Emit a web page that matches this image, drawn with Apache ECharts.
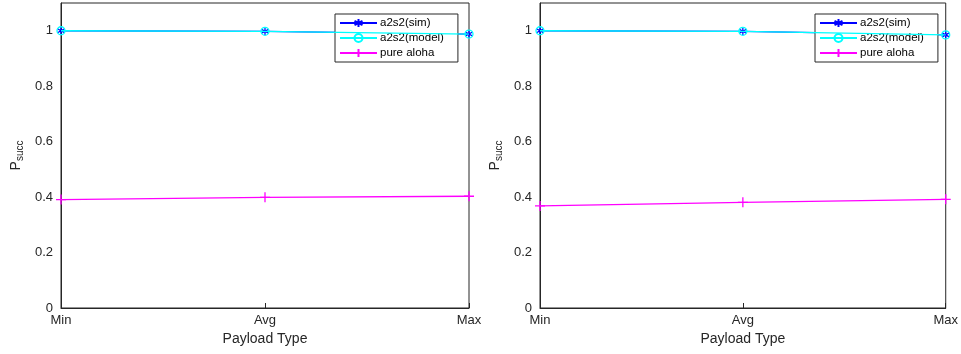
<!DOCTYPE html>
<html>
<head>
<meta charset="utf-8">
<script src="https://cdn.jsdelivr.net/npm/echarts@6/dist/echarts.min.js"></script>
<style>
  html, body { margin: 0; padding: 0; background: #fff; }
  #chart { width: 961px; height: 354px; }
</style>
</head>
<body>
<div id="chart"></div>
<script>
// Payload categories on the x axis
const categories = ['Min', 'Avg', 'Max'];

// Left panel
const simLeft = [1.0, 0.998, 0.988];
const modelLeft = [1.0, 0.998, 0.988];
const alohaLeft = [0.391, 0.399, 0.403];

// Right panel
const simRight = [1.0, 0.998, 0.985];
const modelRight = [1.0, 0.998, 0.985];
const alohaRight = [0.368, 0.381, 0.392];

const yTicks = [0, 0.2, 0.4, 0.6, 0.8, 1];

const FONT = 'Liberation Sans';
const BLUE = '#0000ff', CYAN = '#00ffff', MAGENTA = '#ff00ff';
const AXIS = '#262626';

const starPath = 'path://M0,-1L0,1M-0.87,-0.5L0.87,0.5M-0.87,0.5L0.87,-0.5';
const plusPath = 'path://M0,-1L0,1M-1,0L1,0';

const chart = echarts.init(document.getElementById('chart'), null, { renderer: 'canvas' });

function xAxisFor(gi) {
  return {
    type: 'category', gridIndex: gi, data: categories, boundaryGap: false,
    name: 'Payload Type', nameLocation: 'middle', nameGap: 24,
    nameTextStyle: { fontFamily: FONT, fontSize: 14, color: AXIS },
    axisLine: { lineStyle: { color: AXIS, width: 1 } },
    axisTick: { inside: true, length: 5, lineStyle: { color: AXIS } },
    axisLabel: { fontFamily: FONT, fontSize: 13, color: AXIS, margin: 6 },
    splitLine: { show: false }
  };
}
function yAxisFor(gi) {
  return {
    type: 'value', gridIndex: gi, min: 0, max: 1.1, interval: 0.2,
    name: '{p|P}{s|succ}', nameLocation: 'middle', nameGap: 36, nameRotate: 90,
    nameTextStyle: {
      rich: {
        p: { fontFamily: FONT, fontSize: 14, color: AXIS },
        s: { fontFamily: FONT, fontSize: 10, color: AXIS, verticalAlign: 'bottom', padding: [7, 0, 0, 0] }
      }
    },
    axisLine: { show: true, lineStyle: { color: AXIS, width: 1 } },
    axisTick: { inside: true, length: 5, lineStyle: { color: AXIS } },
    axisLabel: {
      fontFamily: FONT, fontSize: 13, color: AXIS, margin: 8,
      formatter: v => (yTicks.some(t => Math.abs(t - v) < 1e-9) ? String(+v.toFixed(1)) : '')
    },
    splitLine: { show: false }
  };
}
function seriesFor(gi, sim, model, aloha) {
  return [
    {
      name: 'a2s2(sim)', type: 'line', xAxisIndex: gi, yAxisIndex: gi, data: sim,
      symbol: starPath, symbolSize: 8, symbolKeepAspect: true,
      lineStyle: { color: BLUE, width: 1.3 },
      itemStyle: { color: 'rgba(0,0,0,0)', borderColor: BLUE, borderWidth: 1.3 },
      z: 3
    },
    {
      name: 'a2s2(model)', type: 'line', xAxisIndex: gi, yAxisIndex: gi, data: model,
      symbol: 'circle', symbolSize: 8,
      lineStyle: { color: CYAN, width: 1.3 },
      itemStyle: { color: 'rgba(0,0,0,0)', borderColor: CYAN, borderWidth: 1.3 },
      z: 4
    },
    {
      name: 'pure aloha', type: 'line', xAxisIndex: gi, yAxisIndex: gi, data: aloha,
      symbol: plusPath, symbolSize: 10, symbolKeepAspect: true,
      lineStyle: { color: MAGENTA, width: 1.3 },
      itemStyle: { color: 'rgba(0,0,0,0)', borderColor: MAGENTA, borderWidth: 1.3 },
      z: 3
    }
  ];
}
function legendFor(left) {
  return {
    left: left, top: 14, orient: 'vertical',
    data: ['a2s2(sim)', 'a2s2(model)', 'pure aloha'],
    backgroundColor: '#fff', borderColor: AXIS, borderWidth: 1, borderRadius: 0,
    padding: [3, 14, 3, 4], itemGap: 3, itemWidth: 37, itemHeight: 10,
    textStyle: { fontFamily: FONT, fontSize: 11.5, color: '#000', padding: [0, 0, 0, -2] },
    selectedMode: false
  };
}

chart.setOption({
  backgroundColor: '#fff',
  animation: false,
  grid: [
    { left: 61, top: 3, width: 408, height: 305, show: true, borderColor: AXIS, borderWidth: 1, backgroundColor: 'transparent' },
    { left: 540, top: 3, width: 408, height: 305, show: true, borderColor: AXIS, borderWidth: 1, backgroundColor: 'transparent' }
  ],
  legend: [legendFor(335), legendFor(815)],
  xAxis: [xAxisFor(0), xAxisFor(1)],
  yAxis: [yAxisFor(0), yAxisFor(1)],
  series: [
    ...seriesFor(0, simLeft, modelLeft, alohaLeft),
    ...seriesFor(1, simRight, modelRight, alohaRight)
  ]
});
</script>
</body>
</html>
